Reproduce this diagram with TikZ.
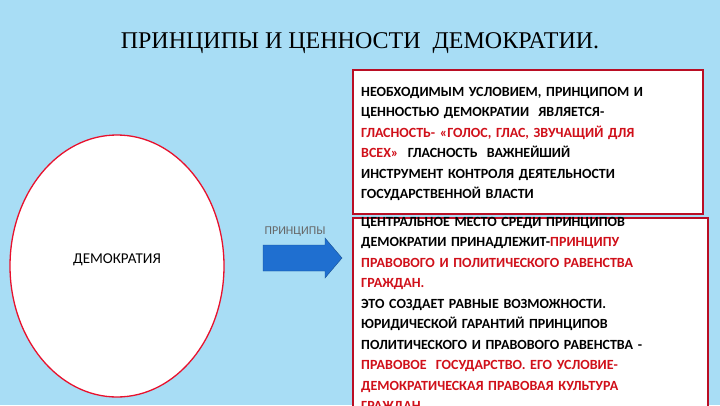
\documentclass[tikz,border=0pt]{standalone}
\usepackage{fontspec}
\setmainfont{Liberation Serif}
\newfontfamily\carlf{Carlito}
\usetikzlibrary{shapes.geometric}
\definecolor{bg}{HTML}{A8DDF5}
\definecolor{rd}{HTML}{E8112D}
\definecolor{tx}{HTML}{D0101A}
\definecolor{ab}{HTML}{1F6FD0}
\tikzset{box/.style={draw=rd!80!black,line width=1.3pt,fill=white},
 txt/.style={anchor=north west,align=left,text width=345pt,font=\carlf\bfseries\fontsize{14}{20.5}\selectfont,inner sep=0pt}}
\begin{document}
\begin{tikzpicture}[x=1pt,y=-1pt]
\clip (0,0) rectangle (720,405);
\fill[bg] (0,0) rectangle (720,405);
\node[font=\fontsize{24}{28}\selectfont] (title) at (360,43) {ПРИНЦИПЫ И ЦЕННОСТИ \ ДЕМОКРАТИИ.};
\draw[box] (353,70) rectangle (703,214);
\draw[box] (353,218) rectangle (708,420);
\node[txt] (t1) at (361,87) {НЕОБХОДИМЫМ УСЛОВИЕМ, ПРИНЦИПОМ И\\ЦЕННОСТЬЮ ДЕМОКРАТИИ \ ЯВЛЯЕТСЯ-\\\textcolor{tx}{ГЛАСНОСТЬ- «ГОЛОС, ГЛАС, ЗВУЧАЩИЙ ДЛЯ\\ВСЕХ»} \ ГЛАСНОСТЬ \ ВАЖНЕЙШИЙ\\ИНСТРУМЕНТ КОНТРОЛЯ ДЕЯТЕЛЬНОСТИ\\ГОСУДАРСТВЕННОЙ ВЛАСТИ};
\node[txt] (t2) at (361,217) {ЦЕНТРАЛЬНОЕ МЕСТО СРЕДИ ПРИНЦИПОВ\\ДЕМОКРАТИИ ПРИНАДЛЕЖИТ-\textcolor{tx}{ПРИНЦИПУ\\ПРАВОВОГО И ПОЛИТИЧЕСКОГО РАВЕНСТВА\\ГРАЖДАН.}\\ЭТО СОЗДАЕТ РАВНЫЕ ВОЗМОЖНОСТИ.\\ЮРИДИЧЕСКОЙ ГАРАНТИЙ ПРИНЦИПОВ\\ПОЛИТИЧЕСКОГО И ПРАВОВОГО РАВЕНСТВА -\\\textcolor{tx}{ПРАВОВОЕ \ ГОСУДАРСТВО. ЕГО УСЛОВИЕ-\\ДЕМОКРАТИЧЕСКАЯ ПРАВОВАЯ КУЛЬТУРА\\\underline{ГРАЖДАН}}};
\node[draw=rd,line width=1.3pt,fill=white,ellipse,minimum width=214pt,minimum height=262pt] (c) at (117,266) {};
\node[font=\carlf\fontsize{15}{17}\selectfont] (d) at (117,260) {ДЕМОКРАТИЯ};
\coordinate (a) at (263,258);
\fill[ab,draw=ab!70!black] (a) ++(0,-13) -- ++(62,0) -- ++(0,-7) -- ++(17,20) -- ++(-17,20) -- ++(0,-7) -- ++(-62,0) -- cycle;
\node[font=\carlf\fontsize{12}{14}\selectfont,text=black!60] (p) at (295,232) {ПРИНЦИПЫ};
\end{tikzpicture}
\end{document}
